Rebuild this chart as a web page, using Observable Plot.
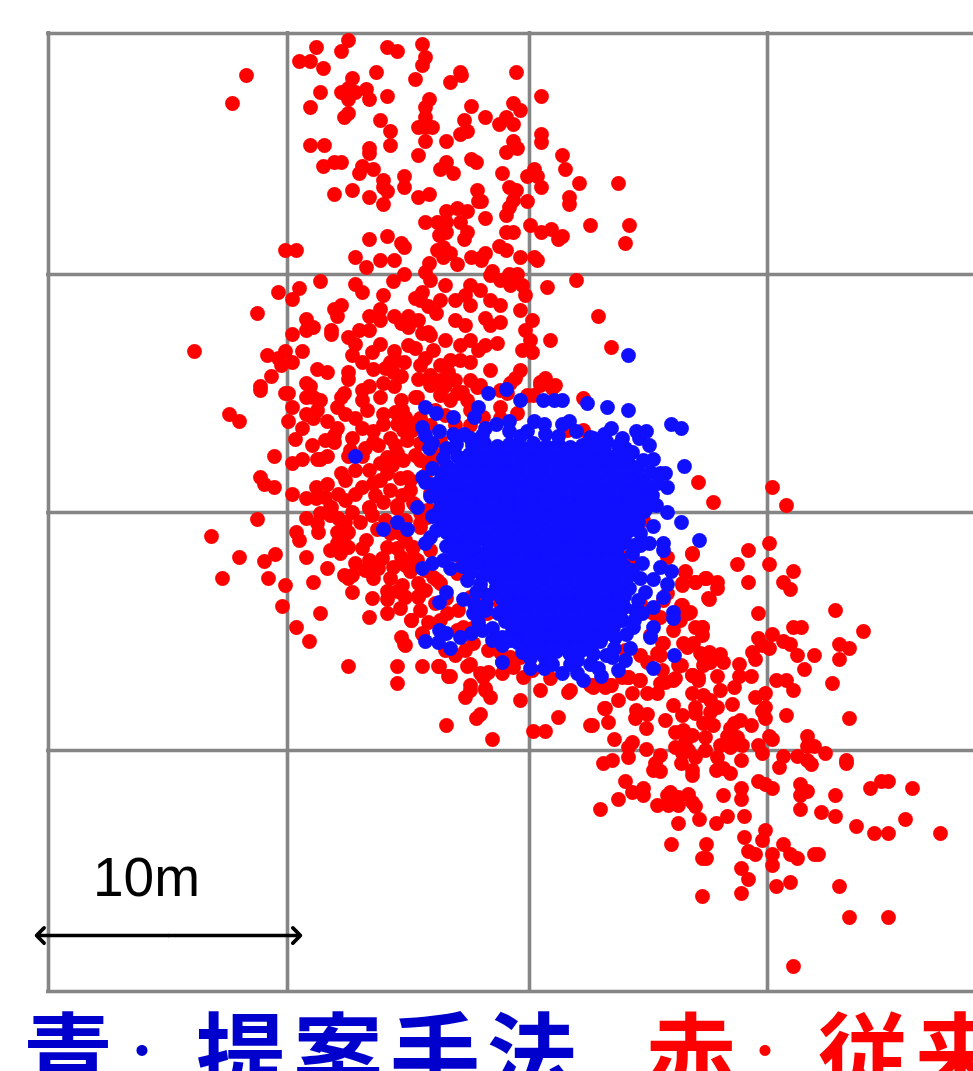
<!DOCTYPE html>
<html lang="ja">
<head>
<meta charset="utf-8">
<style>
html,body{margin:0;padding:0;background:#fff;overflow:hidden;width:973px;height:1071px}
#chart svg{display:block}
#caption{position:relative;width:973px;height:71px;overflow:hidden;font-family:"Noto Sans CJK JP";font-weight:700;white-space:nowrap}
#caption span{position:absolute}
</style>
<script src="https://cdn.jsdelivr.net/npm/d3@7"></script>
<script src="https://cdn.jsdelivr.net/npm/@observablehq/plot@0.6"></script>
</head>
<body>
<div id="chart"></div>
<div id="caption"></div>
<script>
// Readings are in picture units: 24 units = 1 m
const gridX = [48, 287, 529, 767];
const gridY = [33, 274, 512, 750, 991];
const scaleBar = {x1: 36, x2: 300, y: 935, label: "10m", labelX: 146, labelY: 878};
const captionRuns = [
  {text: "青", left: 23, color: "#0000cc"},
  {text: "：", left: 113, color: "#0000cc", small: true},
  {text: "提案手法", left: 196, color: "#0000cc"},
  {text: "赤", left: 646, color: "#ff0000"},
  {text: "：", left: 736, color: "#ff0000", small: true},
  {text: "従来手法", left: 818, color: "#ff0000"}
];
const redNorth = [[348,40],[316,47],[341,51],[387,47],[397,51],[422,44],[425,57],[422,65],[299,61],[310,61],[323,68],[246,75],[232,103],[376,72],[415,79],[460,72],[461,75],[450,82],[352,78],[320,92],[341,92],[366,89],[387,96],[348,99],[355,92],[348,88],[369,99],[310,107],[348,113],[344,117],[429,99],[425,107],[425,117],[380,120],[464,120],[471,106],[390,131],[418,127],[425,127],[432,127],[467,131],[460,134],[425,141],[446,141],[390,145],[310,145],[324,145],[369,148],[369,153],[418,155],[471,159],[476,162],[446,162],[440,169],[453,173],[362,166],[373,169],[359,173],[323,166],[334,162],[341,162],[383,180],[383,187],[387,191],[404,176],[404,187],[352,190],[334,194],[369,197],[383,204],[418,197],[429,194],[477,190],[478,201],[446,211],[457,208],[467,211],[425,222],[437,222],[446,222],[460,222],[446,232],[467,232],[439,235],[464,239],[369,239],[387,236],[401,243],[404,247],[285,250],[296,250],[437,250],[443,247],[450,253],[443,257],[471,257],[480,258],[355,257],[380,260],[394,260],[366,267],[429,263],[457,264],[425,272],[516,72],[541,96],[513,103],[520,110],[485,117],[499,124],[506,117],[513,124],[541,134],[541,142],[513,141],[517,148],[506,152],[562,155],[565,169],[534,169],[527,176],[537,176],[541,187],[579,183],[618,183],[502,173],[509,187],[516,190],[513,200],[509,207],[506,215],[527,201],[569,197],[569,204],[590,225],[629,225],[625,243],[530,225],[541,232],[551,229],[562,236],[558,239],[485,218],[481,201],[506,232],[513,232],[499,246],[506,250],[534,257],[537,260],[520,257],[485,253],[481,260],[492,271],[509,274],[517,274],[576,280]];
const redWest = [[320,281],[278,292],[299,288],[292,299],[257,313],[194,351],[355,284],[362,292],[383,295],[393,281],[404,274],[334,309],[341,305],[337,316],[380,309],[369,316],[380,320],[394,316],[408,316],[401,323],[418,320],[415,298],[422,292],[428,306],[436,313],[306,319],[313,327],[306,330],[292,334],[331,330],[331,334],[359,330],[369,330],[348,337],[355,344],[380,344],[408,327],[422,333],[428,332],[415,348],[433,350],[394,351],[267,355],[285,351],[302,351],[278,358],[292,362],[281,365],[352,355],[362,362],[373,369],[404,362],[390,362],[393,372],[401,376],[317,369],[327,372],[348,372],[348,379],[271,376],[260,386],[260,390],[285,393],[288,393],[306,383],[310,386],[306,397],[320,400],[313,397],[344,393],[341,397],[383,383],[369,386],[362,390],[380,397],[394,386],[401,400],[418,379],[415,397],[430,385],[292,407],[306,414],[317,410],[313,418],[337,407],[362,400],[345,414],[355,418],[367,410],[383,414],[402,410],[229,414],[239,421],[288,421],[302,428],[295,439],[327,421],[337,428],[334,435],[334,442],[352,438],[373,431],[373,442],[383,424],[390,438],[397,424],[405,417],[274,456],[302,459],[292,463],[317,459],[327,456],[320,459],[348,456],[362,456],[260,477],[264,484],[274,487],[292,494],[306,498],[316,487],[327,484],[316,498],[331,507],[338,494],[341,473],[355,470],[345,480],[355,494],[362,487],[369,470],[380,463],[387,457],[387,473],[373,483],[390,490],[383,502],[369,507],[397,505],[403,460],[407,477],[410,490],[413,503],[420,443],[407,440],[397,453],[403,430],[427,463],[433,490],[430,280],[445,285],[420,300],[440,300],[455,320],[465,325],[430,335],[445,340],[470,340],[490,325],[500,322],[497,343],[485,345],[525,330],[522,350],[530,340],[532,320],[525,295],[522,285],[520,310],[550,340],[532,352],[520,370],[515,378],[490,370],[460,360],[450,360],[440,365],[480,385],[470,380],[455,380],[445,385],[430,375],[440,395],[450,400],[545,378],[540,385],[555,385],[478,350],[460,345],[500,390],[465,295],[470,285],[480,290],[490,275],[500,280],[510,285],[547,287],[598,316],[611,347],[490,300],[470,305],[455,300],[500,305],[485,318]];
const redSouthWest = [[257,519],[211,536],[239,557],[264,561],[275,554],[222,578],[268,578],[285,585],[282,606],[296,627],[309,641],[320,613],[313,582],[306,557],[327,568],[296,532],[299,540],[306,518],[318,532],[320,513],[330,507],[317,523],[330,515],[337,532],[348,532],[366,540],[369,508],[330,550],[337,543],[340,553],[348,547],[343,538],[355,563],[344,575],[348,578],[352,592],[369,560],[373,578],[382,558],[390,578],[393,567],[387,591],[387,599],[397,591],[404,596],[418,596],[418,583],[369,617],[387,613],[411,620],[401,637],[404,644],[422,634],[348,666],[397,666],[397,683],[422,666],[439,666],[448,676],[446,725],[401,557],[397,548],[387,547],[412,547],[377,529],[390,533],[400,533],[417,560],[410,571],[437,580],[430,550],[420,523],[427,517],[397,508],[435,603],[447,613],[492,739],[533,731],[545,731],[558,717],[520,700],[480,714],[476,718],[470,690],[485,690],[490,697],[465,697],[502,662],[470,664],[488,672],[540,690],[568,692],[590,685],[605,687],[605,708],[590,725],[405,597],[418,597],[411,620],[422,633],[405,645],[438,666],[450,676],[467,666],[480,673],[483,677],[470,685],[485,688]];
const redAroundCore = [[523,677],[513,667],[502,673],[532,670],[550,678],[570,690],[592,685],[610,685],[628,677],[640,680],[660,683],[675,678],[698,680],[692,675],[678,665],[703,657],[687,647],[683,613],[690,612],[702,627],[682,605],[708,598],[695,582],[682,583],[705,578],[685,572],[692,553],[667,557],[662,643],[663,600],[660,617],[632,557],[583,398],[583,430],[567,430],[552,388],[540,382],[533,395],[527,395],[507,393],[510,383],[517,413],[500,407],[483,417],[477,387],[457,393],[467,400],[443,387],[417,397],[410,423],[433,453],[420,460],[440,460],[450,480],[410,480],[430,493],[420,513],[427,510],[420,527],[443,520],[413,547],[413,557],[433,577],[440,583],[460,557],[457,573],[470,597],[483,593],[500,597],[500,603],[487,613],[477,597],[463,627],[457,630],[473,643],[495,638],[500,652],[510,657],[520,657],[667,593],[640,603],[653,613],[627,557],[643,520],[372,352],[385,368],[425,358],[448,372],[470,362],[435,410],[420,418],[395,412],[378,445],[362,428],[350,450],[325,440],[312,445],[345,500],[352,512],[375,495],[400,478],[392,465],[415,455],[425,475],[405,520],[385,520],[360,522],[345,522],[362,548],[378,568],[402,585],[425,590],[446,598],[458,610],[472,628],[488,650],[445,650],[420,610],[400,608],[372,598],[365,448],[380,480],[395,445],[412,430],[430,425],[415,505],[402,495],[372,515],[338,518],[325,497],[352,575],[365,570],[405,565],[425,570],[440,620],[428,622],[455,655],[465,650],[392,525],[405,540],[430,510],[440,440],[455,425],[470,425],[395,360],[408,345],[420,365],[440,380],[462,392],[470,410],[500,418],[445,415],[650,635],[660,655],[640,655],[625,650]];
const redSouthEast = [[698,482],[713,502],[772,487],[786,505],[692,554],[769,543],[748,550],[737,564],[769,564],[793,571],[748,582],[783,582],[790,589],[685,571],[706,578],[717,582],[717,588],[695,582],[682,585],[709,599],[681,605],[688,613],[758,613],[835,610],[793,627],[801,627],[863,631],[758,638],[772,634],[783,641],[790,644],[797,655],[814,655],[839,644],[849,648],[839,659],[804,669],[832,683],[786,715],[849,718],[769,648],[762,645],[752,652],[755,659],[739,664],[723,662],[720,654],[709,652],[717,676],[739,676],[751,676],[776,680],[786,680],[793,690],[765,693],[755,697],[734,687],[720,690],[732,704],[765,707],[762,711],[765,718],[751,725],[734,723],[740,720],[730,728],[727,736],[737,737],[742,745],[758,745],[769,736],[772,739],[807,736],[814,746],[807,746],[825,753],[846,760],[702,627],[695,627],[702,635],[680,620],[673,630],[683,643],[693,643],[663,643],[657,653],[647,662],[662,670],[681,665],[700,653],[703,665],[710,662],[698,677],[692,675],[673,680],[665,682],[657,693],[647,693],[632,693],[639,680],[628,677],[622,677],[611,685],[593,687],[618,700],[604,708],[608,722],[592,725],[614,739],[632,742],[628,747],[646,749],[636,710],[647,714],[635,718],[646,728],[665,720],[673,705],[692,693],[703,695],[710,700],[717,707],[710,712],[695,707],[695,713],[682,715],[703,723],[713,725],[683,730],[675,732],[692,735],[705,737],[685,742],[675,747],[688,750],[705,750],[720,745],[730,747],[628,757],[612,760],[603,763],[660,755],[655,763],[653,770],[660,771],[681,763],[682,753],[692,770],[692,775],[695,757],[716,770],[723,768],[730,773],[741,760],[717,757],[762,753],[783,756],[779,767],[797,756],[807,760],[811,764],[846,763],[758,781],[765,784],[772,788],[741,788],[741,799],[723,795],[625,781],[632,792],[643,788],[643,795],[618,799],[600,809],[657,805],[667,795],[670,792],[668,805],[678,805],[678,797],[688,794],[692,802],[695,806],[678,823],[699,819],[716,823],[727,816],[744,816],[800,784],[807,791],[800,795],[835,795],[870,788],[881,781],[888,781],[912,788],[800,809],[821,812],[835,816],[856,826],[905,819],[874,833],[888,833],[940,833],[765,830],[762,840],[744,837],[783,844],[790,854],[797,858],[772,854],[772,865],[755,854],[748,851],[741,868],[748,879],[741,893],[706,844],[671,844],[706,858],[702,858],[702,896],[776,886],[790,882],[839,886],[849,917],[888,917],[793,966],[814,854],[818,854]];
const blueEdge = [[628,355],[488,393],[506,389],[520,400],[543,400],[554,400],[562,400],[587,403],[607,407],[628,410],[671,424],[681,428],[425,407],[436,413],[453,417],[474,417],[478,407],[422,427],[425,435],[439,431],[429,448],[432,443],[446,448],[453,434],[464,434],[485,428],[496,424],[509,421],[509,431],[527,431],[534,421],[544,424],[562,424],[569,421],[576,431],[593,438],[604,434],[611,428],[636,431],[646,431],[639,438],[649,445],[618,445],[625,448],[604,448],[622,462],[625,458],[628,473],[653,459],[660,473],[665,473],[684,466],[614,477],[643,480],[667,487],[647,487],[652,495],[646,508],[667,512],[681,522],[653,526],[699,540],[663,543],[663,550],[649,543],[640,545],[632,553],[642,563],[660,567],[671,571],[653,579],[667,584],[663,597],[645,592],[653,607],[673,612],[673,618],[635,610],[642,613],[622,620],[653,627],[650,637],[633,627],[615,637],[674,655],[653,668],[618,670],[625,660],[612,657],[601,676],[583,680],[577,673],[577,660],[562,673],[544,668],[544,657],[530,658],[502,662],[502,637],[502,645],[517,642],[537,645],[482,630],[471,633],[460,637],[446,633],[439,630],[450,648],[425,641],[438,642],[439,602],[446,592],[463,599],[467,580],[488,595],[473,613],[485,610],[498,613],[505,621],[450,568],[443,560],[432,563],[422,568],[417,507],[407,529],[425,543],[430,537],[422,477],[425,482],[432,468],[443,473],[355,456],[383,529],[397,522]];
const blueCore = [[472,445],[484,443],[497,446],[509,444],[521,447],[533,443],[546,446],[558,444],[570,447],[582,445],[595,443],[457,456],[469,454],[482,457],[494,455],[506,458],[519,453],[531,456],[543,454],[556,457],[568,455],[580,458],[592,454],[604,457],[616,455],[447,466],[459,468],[471,465],[484,467],[496,464],[508,468],[521,466],[533,465],[545,468],[557,464],[570,467],[582,466],[594,468],[606,465],[618,467],[630,465],[637,468],[441,478],[453,476],[465,479],[478,477],[490,475],[502,479],[514,477],[527,476],[539,479],[551,477],[563,475],[576,478],[588,476],[600,479],[612,477],[624,475],[637,478],[441,488],[454,490],[466,487],[478,489],[490,486],[503,490],[515,488],[527,487],[539,490],[552,488],[564,486],[576,490],[588,488],[601,487],[613,490],[625,488],[637,486],[648,489],[439,499],[451,501],[463,498],[476,500],[488,497],[500,501],[512,499],[525,498],[537,501],[549,499],[561,497],[574,500],[586,498],[598,501],[610,499],[622,497],[635,500],[648,499],[439,510],[452,512],[464,509],[476,511],[488,508],[501,512],[513,510],[525,509],[537,512],[550,510],[562,508],[574,512],[586,510],[599,509],[611,512],[623,510],[635,508],[644,511],[441,521],[453,523],[465,520],[478,522],[490,519],[502,523],[514,521],[527,520],[539,523],[551,521],[563,519],[576,522],[588,520],[600,523],[612,521],[624,519],[638,522],[446,532],[458,534],[470,531],[483,533],[495,530],[507,534],[519,532],[532,531],[544,534],[556,532],[568,530],[581,533],[593,531],[605,534],[617,532],[629,530],[451,543],[463,545],[475,542],[488,544],[500,541],[512,545],[524,543],[537,542],[549,545],[561,543],[573,541],[586,544],[598,542],[610,545],[622,543],[454,554],[466,556],[478,553],[503,555],[515,552],[527,556],[540,554],[552,553],[564,556],[576,554],[589,552],[601,555],[613,553],[472,565],[484,567],[497,564],[509,566],[521,563],[533,567],[546,565],[558,564],[570,567],[582,565],[594,563],[607,566],[619,564],[624,566],[482,576],[494,578],[506,575],[519,577],[531,574],[543,578],[555,576],[568,575],[580,578],[592,576],[604,574],[617,577],[629,575],[496,587],[508,589],[520,586],[533,588],[545,585],[557,589],[569,587],[582,586],[594,589],[606,587],[618,585],[629,588],[501,598],[513,600],[525,597],[538,599],[550,596],[562,600],[574,598],[587,597],[599,600],[611,598],[624,596],[503,609],[515,611],[527,608],[540,610],[552,607],[564,611],[576,609],[589,608],[601,611],[613,609],[624,607],[507,620],[519,622],[531,619],[544,621],[556,618],[568,622],[580,620],[593,619],[605,622],[618,620],[512,631],[524,633],[536,630],[549,632],[561,629],[573,633],[585,631],[598,630],[610,633],[521,642],[533,644],[546,641],[558,643],[570,640],[582,644],[594,642],[600,641],[532,652],[544,654],[556,651],[569,653],[581,650],[593,654]];
const blueCoreFill = [[478,450],[490,451],[503,449],[515,452],[527,450],[540,449],[552,451],[564,450],[576,451],[588,449],[600,451],[463,461],[476,460],[488,462],[500,460],[513,462],[525,460],[537,461],[550,460],[562,461],[574,461],[586,460],[598,461],[610,461],[453,471],[465,472],[477,471],[490,470],[502,472],[515,471],[527,470],[539,472],[551,470],[564,471],[576,472],[588,471],[600,472],[612,470],[625,471],[447,483],[459,482],[472,483],[484,482],[496,483],[508,482],[521,482],[533,483],[545,482],[557,482],[570,483],[582,482],[594,483],[607,482],[619,482],[631,482],[643,483],[445,494],[457,495],[470,493],[482,494],[494,492],[506,495],[519,493],[531,494],[543,495],[555,493],[568,492],[580,494],[592,493],[604,494],[616,493],[629,494],[641,493],[445,505],[457,506],[470,504],[482,505],[494,503],[506,506],[519,504],[531,505],[543,506],[555,504],[568,503],[580,505],[592,504],[604,505],[616,504],[629,505],[641,504],[447,516],[459,517],[471,515],[484,516],[496,514],[508,517],[520,515],[532,516],[545,517],[557,515],[569,514],[582,516],[594,515],[606,516],[618,515],[630,516],[452,527],[464,527],[476,526],[489,527],[501,525],[513,528],[525,526],[538,527],[550,528],[562,526],[574,525],[587,527],[599,526],[611,527],[623,526],[457,538],[469,538],[481,537],[494,538],[506,536],[518,539],[530,537],[543,538],[555,539],[567,537],[579,536],[592,538],[604,537],[616,538],[624,537],[460,549],[472,549],[496,549],[509,548],[521,549],[533,549],[546,549],[558,549],[570,548],[582,549],[595,548],[607,549],[617,548],[478,560],[490,561],[509,560],[521,558],[533,561],[546,560],[558,559],[570,561],[582,560],[595,558],[607,560],[619,558],[488,572],[500,571],[513,570],[525,571],[537,570],[549,572],[562,570],[574,572],[586,570],[598,570],[611,571],[623,570],[502,582],[514,583],[526,581],[539,583],[551,581],[563,583],[575,581],[588,583],[600,581],[612,582],[624,581],[507,593],[519,592],[531,593],[544,591],[556,593],[568,592],[580,592],[593,593],[605,592],[617,591],[507,604],[519,605],[531,603],[544,605],[556,602],[568,605],[580,603],[593,603],[605,605],[617,603],[511,615],[523,616],[535,614],[548,615],[560,613],[572,616],[584,614],[597,614],[609,616],[619,614],[516,626],[528,627],[540,625],[553,627],[565,624],[577,627],[589,625],[602,625],[613,627],[527,637],[539,637],[552,636],[564,635],[576,638],[588,636],[602,636],[539,648],[551,648],[563,647],[575,647],[587,648]];
const blueOuterCore = [[470,438],[482,435],[520,436],[545,434],[558,436],[590,437],[606,441],[622,438],[632,452],[643,460],[650,472],[657,483],[656,505],[640,533],[634,545],[632,570],[640,578],[638,600],[634,620],[626,634],[614,648],[606,655],[590,664],[570,664],[552,664],[522,652],[510,640],[492,628],[478,622],[486,604],[476,592],[480,584],[470,572],[462,566],[446,546],[436,530],[432,516],[430,496],[434,484],[443,458],[456,444],[468,548],[490,556],[474,604],[492,640],[530,668],[598,668],[630,648]];

const toRows = pts => pts.map(([x, y]) => ({x, y}));
const red = [redNorth, redWest, redSouthWest, redAroundCore, redSouthEast].flatMap(toRows);
const blue = toRows(blueEdge.concat(blueCore, blueCoreFill, blueOuterCore));
const barMid = (scaleBar.x1 + scaleBar.x2) / 2;

const plot = Plot.plot({
  width: 973,
  height: 1000,
  margin: 0,
  style: {background: "#fff", overflow: "hidden"},
  x: {domain: [0, 973], range: [0, 973], axis: null},
  y: {domain: [0, 1000], range: [0, 1000], axis: null},
  marks: [
    Plot.ruleX(gridX, {y1: gridY[0] - 2, y2: gridY[4] + 2, stroke: "#858585", strokeWidth: 3.6}),
    Plot.ruleY(gridY, {x1: gridX[0] - 2, x2: 973, stroke: "#858585", strokeWidth: 3.6}),
    Plot.dot(red, {x: "x", y: "y", r: 7.4, fill: "#ff0000", stroke: "none"}),
    Plot.dot(blue, {x: "x", y: "y", r: 7.4, fill: "#1010ff", stroke: "none"}),
    Plot.arrow([{a: barMid, b: scaleBar.x1}, {a: barMid, b: scaleBar.x2}], {
      x1: "a", x2: "b", y1: () => scaleBar.y, y2: () => scaleBar.y,
      stroke: "#000", strokeWidth: 3.6, headLength: 4.5, headAngle: 90
    }),
    Plot.text([scaleBar.label], {
      x: () => scaleBar.labelX, y: () => scaleBar.labelY, text: d => d,
      fontSize: 55, fontFamily: "Liberation Sans", fill: "#000", textAnchor: "middle"
    })
  ]
});
document.getElementById("chart").append(plot);

const caption = document.getElementById("caption");
for (const run of captionRuns) {
  const s = document.createElement("span");
  s.textContent = run.text;
  s.style.left = run.left + "px";
  s.style.color = run.color;
  s.style.fontSize = (run.small ? 58 : 90) + "px";
  s.style.lineHeight = (run.small ? 58 : 90) + "px";
  s.style.top = (run.small ? 32 : 4) + "px";
  s.style.letterSpacing = run.small || run.text.length === 1 ? "0" : "7px";
  caption.append(s);
}
</script>
</body>
</html>
